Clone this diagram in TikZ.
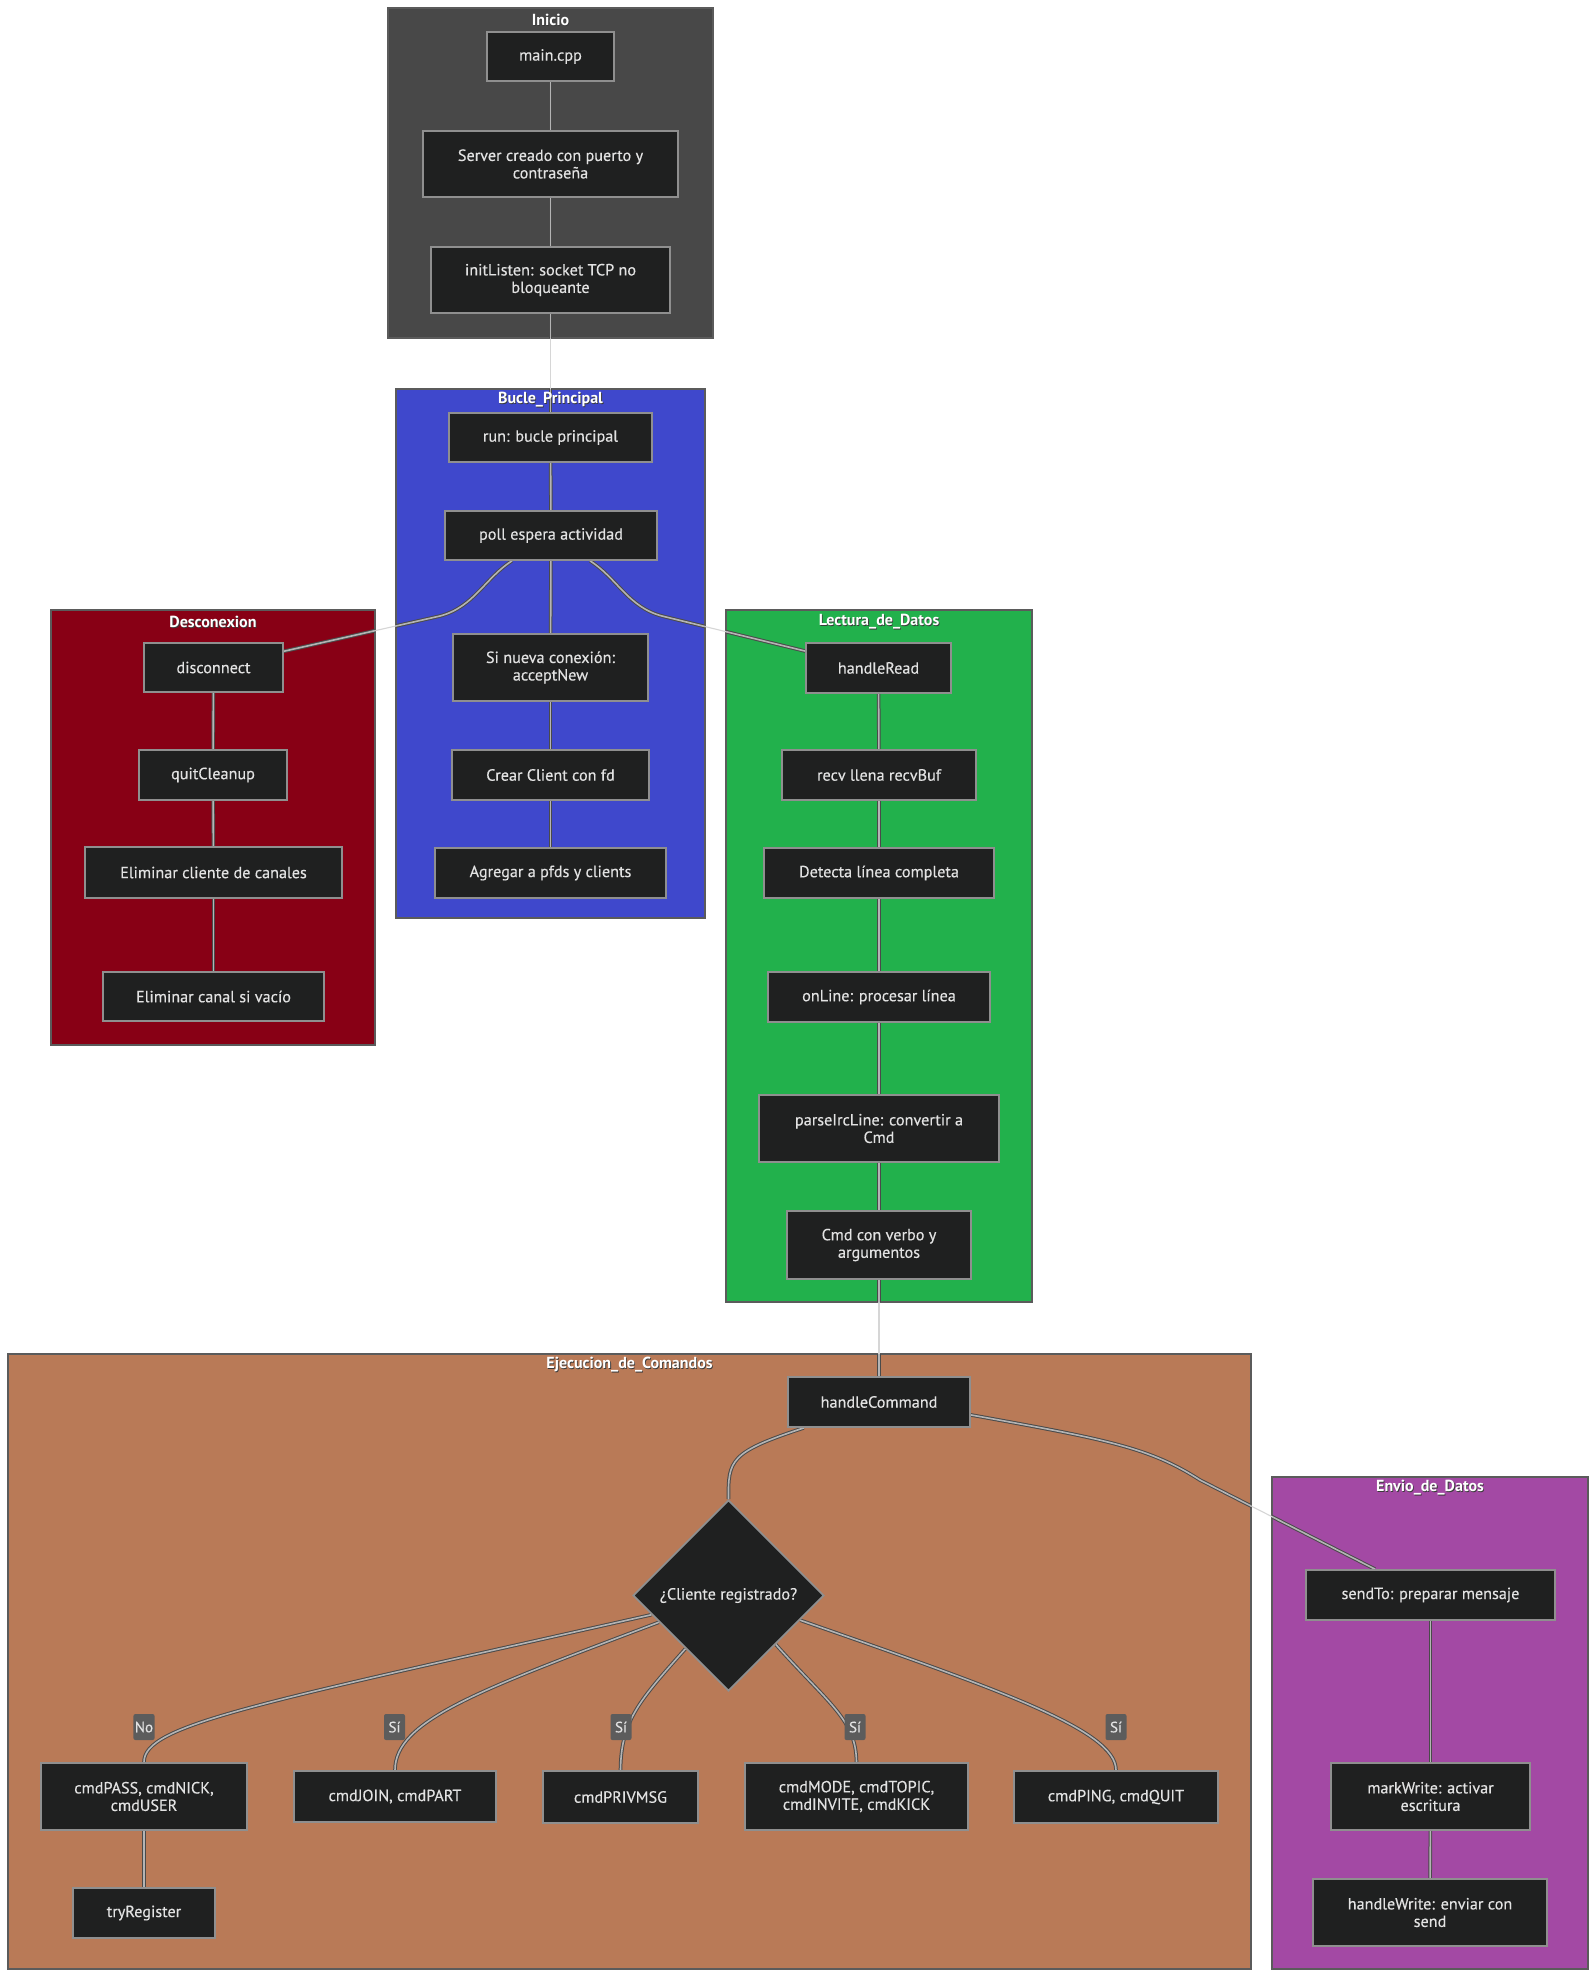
\documentclass[tikz,border=0pt]{standalone}
\usepackage{fontspec}
\setmainfont{PT Sans}
\newfontfamily\nodefont{PT Sans}[FakeBold=0.35]
\usetikzlibrary{shapes.geometric}
\definecolor{cInicio}{HTML}{484848}
\definecolor{cBucle}{HTML}{3F48CC}
\definecolor{cDesc}{HTML}{880015}
\definecolor{cLect}{HTML}{22B14C}
\definecolor{cEjec}{HTML}{B97A57}
\definecolor{cEnvio}{HTML}{A349A4}
\definecolor{nodefill}{HTML}{1F2020}
\definecolor{nodeborder}{HTML}{8F8F8F}
\definecolor{nodetext}{HTML}{E2E2E2}
\definecolor{clusterborder}{HTML}{5B5B5B}
\definecolor{edgelight}{HTML}{D6D6D6}
\definecolor{edgedark}{HTML}{4A4A4A}
\definecolor{edgemid}{HTML}{B4B4B4}
\definecolor{lblfill}{HTML}{5C5C5C}
\definecolor{titleshadow}{HTML}{3A3A3A}
\pgfdeclarelayer{bg}
\pgfdeclarelayer{edgelayer}
\pgfsetlayers{bg,edgelayer,main}
\newcommand\drawalledges[1]{%
  \draw[#1] (main) -- (server);
  \draw[#1] (server) -- (initl);
  \draw[#1] (initl) -- (run);
  \draw[#1] (run) -- (poll);
  \draw[#1] (poll) -- (nueva);
  \draw[#1] (nueva) -- (crear);
  \draw[#1] (crear) -- (agregar);
  \draw[#1] (poll.213) .. controls (485,578) and (474,607) .. (440,616) -- (disc.13);
  \draw[#1] (poll.327) .. controls (617,578) and (628,607) .. (662,616) -- (hread.167);
  \draw[#1] (disc) -- (quit);
  \draw[#1] (quit) -- (elimcli);
  \draw[#1] (elimcli) -- (elimcan);
  \draw[#1] (hread) -- (recv);
  \draw[#1] (recv) -- (detecta);
  \draw[#1] (detecta) -- (online);
  \draw[#1] (online) -- (parse);
  \draw[#1] (parse) -- (cmd);
  \draw[#1] (cmd) -- (hc);
  \draw[#1] (hc.199) .. controls (730,1452) and (728,1460) .. (dec.north);
  \draw[#1] (hc.352) .. controls (1110,1440) and (1150,1448) .. (1200,1480) -- (sendto.155);
  \draw[#1] (dec.194) .. controls (250,1705) and (144,1725) .. (pass.north);
  \draw[#1] (dec.201) .. controls (480,1690) and (395,1720) .. (join.north);
  \draw[#1] (dec.231) .. controls (640,1700) and (621,1720) .. (priv.north);
  \draw[#1] (dec.314) .. controls (830,1705) and (856,1720) .. (mode.north);
  \draw[#1] (dec.341) .. controls (1000,1690) and (1116,1730) .. (ping.north);
  \draw[#1] (pass) -- (tryreg);
  \draw[#1] (sendto) -- (markw);
  \draw[#1] (markw) -- (hwrite);
}
\begin{document}
\begin{tikzpicture}[x=1pt,y=-1pt,
  box/.style={draw=nodeborder, line width=1.8pt, fill=nodefill, text=nodetext,
    font=\nodefont\fontsize{16.2}{17.5}\selectfont, align=center, inner sep=2pt, minimum height=50pt},
  cluster/.style={draw=clusterborder, line width=1.8pt},
  ctitle/.style={text=white, font=\bfseries\fontsize{16}{18}\selectfont, inner sep=1pt},
  tshadow/.style={text=titleshadow, font=\bfseries\fontsize{16}{18}\selectfont, inner sep=1pt},
  thinedge/.style={draw=edgelight, line width=1.1pt},
  dbledge/.style={draw=edgedark, line width=1pt, double=edgemid, double distance=1.6pt},
  lbl/.style={fill=lblfill, text=nodetext, font=\nodefont\fontsize{15}{16}\selectfont, inner sep=1.5pt,
    minimum width=21pt, minimum height=26pt, rounded corners=2pt}
]
\useasboundingbox (0,0) rectangle (1596,1979);
\begin{pgfonlayer}{bg}
  \fill[white] (0,0) rectangle (1596,1979);
  \draw[cluster, fill=cInicio] (388,8) rectangle (713,338);
  \draw[cluster, fill=cBucle] (396,389) rectangle (705,918);
  \draw[cluster, fill=cDesc] (51,610) rectangle (375,1045);
  \draw[cluster, fill=cLect] (726,610) rectangle (1032,1302);
  \draw[cluster, fill=cEjec] (8,1354) rectangle (1251,1969);
  \draw[cluster, fill=cEnvio] (1272,1477) rectangle (1588,1969);
  % soft outline behind titles
  \node[tshadow] (sInicio) at (551.3,20.8) {Inicio};
  \node[tshadow] (sBucle) at (551.3,400.8) {Bucle\_Principal};
  \node[tshadow] (sDesc) at (213.8,622.8) {Desconexion};
  \node[tshadow] (sLect) at (879.8,622.8) {Lectura\_de\_Datos};
  \node[tshadow] (sEjec) at (630.3,1365.8) {Ejecucion\_de\_Comandos};
  \node[tshadow] (sEnvio) at (1430.8,1488.8) {Envio\_de\_Datos};
\end{pgfonlayer}

% cluster titles
\node[ctitle] (tInicio) at (550.5,20) {Inicio};
\node[ctitle] (tBucle) at (550.5,400) {Bucle\_Principal};
\node[ctitle] (tDesc) at (213,622) {Desconexion};
\node[ctitle] (tLect) at (879,622) {Lectura\_de\_Datos};
\node[ctitle] (tEjec) at (629.5,1365) {Ejecucion\_de\_Comandos};
\node[ctitle] (tEnvio) at (1430,1488) {Envio\_de\_Datos};

% Inicio
\node[box, minimum width=127pt, minimum height=49pt] (main) at (550.5,56.5) {main.cpp};
\node[box, minimum width=255pt, minimum height=66pt] (server) at (550.5,164) {Server creado con puerto y\\contraseña};
\node[box, minimum width=239pt, minimum height=66pt] (initl) at (550.5,280) {initListen: socket TCP no\\bloqueante};
% Bucle
\node[box, minimum width=203pt, minimum height=49pt] (run) at (550.5,437.5) {run: bucle principal};
\node[box, minimum width=212pt, minimum height=49pt] (poll) at (551,535.5) {poll espera actividad};
\node[box, minimum width=195pt, minimum height=67pt] (nueva) at (550.5,667.5) {Si nueva conexión:\\acceptNew};
\node[box, minimum width=197pt] (crear) at (550.5,775) {Crear Client con fd};
\node[box, minimum width=231pt] (agregar) at (550.5,873) {Agregar a pfds y clients};
% Desconexion
\node[box, minimum width=139pt, minimum height=49pt] (disc) at (213.5,667.5) {disconnect};
\node[box, minimum width=148pt] (quit) at (213,775) {quitCleanup};
\node[box, minimum width=257pt, minimum height=51pt] (elimcli) at (213.5,872.5) {Eliminar cliente de canales};
\node[box, minimum width=221pt, minimum height=49pt] (elimcan) at (213.5,996.5) {Eliminar canal si vacío};
% Lectura
\node[box, minimum width=145pt] (hread) at (878.5,668) {handleRead};
\node[box, minimum width=194pt] (recv) at (879,775) {recv llena recvBuf};
\node[box, minimum width=230pt] (detecta) at (879,873) {Detecta línea completa};
\node[box, minimum width=222pt] (online) at (879,997) {onLine: procesar línea};
\node[box, minimum width=240pt, minimum height=67pt] (parse) at (879,1128.5) {parseIrcLine: convertir a\\Cmd};
\node[box, minimum width=184pt, minimum height=68pt] (cmd) at (879,1245) {Cmd con verbo y\\argumentos};
% Ejecucion
\node[box, minimum width=182pt] (hc) at (879,1402) {handleCommand};
\node[box, shape=diamond, aspect=1, inner sep=0pt, minimum width=191pt, minimum height=191pt] (dec) at (728.5,1595.5) {¿Cliente registrado?};
\node[box, minimum width=206pt, minimum height=67pt] (pass) at (144,1796.5) {cmdPASS, cmdNICK,\\cmdUSER};
\node[box, minimum width=142pt] (tryreg) at (144,1913) {tryRegister};
\node[box, minimum width=202pt, minimum height=51pt] (join) at (395,1796.5) {cmdJOIN, cmdPART};
\node[box, minimum width=155pt, minimum height=52pt] (priv) at (620.5,1797) {cmdPRIVMSG};
\node[box, minimum width=223pt, minimum height=67pt] (mode) at (856.5,1796.5) {cmdMODE, cmdTOPIC,\\cmdINVITE, cmdKICK};
\node[box, minimum width=204pt, minimum height=52pt] (ping) at (1116,1797) {cmdPING, cmdQUIT};
% Envio
\node[box, minimum width=249pt] (sendto) at (1430.5,1595) {sendTo: preparar mensaje};
\node[box, minimum width=199pt, minimum height=67pt] (markw) at (1430.5,1796.5) {markWrite: activar\\escritura};
\node[box, minimum width=234pt, minimum height=67pt] (hwrite) at (1430,1912.5) {handleWrite: enviar con\\send};

% edges
\begin{pgfonlayer}{edgelayer}
  \drawalledges{thinedge}
  \begin{scope}
    \clip (388,8) rectangle (713,338)
          (396,389) rectangle (705,918)
          (51,610) rectangle (375,1045)
          (726,610) rectangle (1032,1302)
          (8,1354) rectangle (1251,1969)
          (1272,1477) rectangle (1588,1969);
    \drawalledges{dbledge}
  \end{scope}
\end{pgfonlayer}

% edge labels
\node[lbl] (lNo) at (144,1727) {No};
\node[lbl] (lS1) at (394.5,1727) {Sí};
\node[lbl] (lS2) at (621,1727) {Sí};
\node[lbl] (lS3) at (855,1727) {Sí};
\node[lbl] (lS4) at (1116,1727) {Sí};
\end{tikzpicture}
\end{document}
